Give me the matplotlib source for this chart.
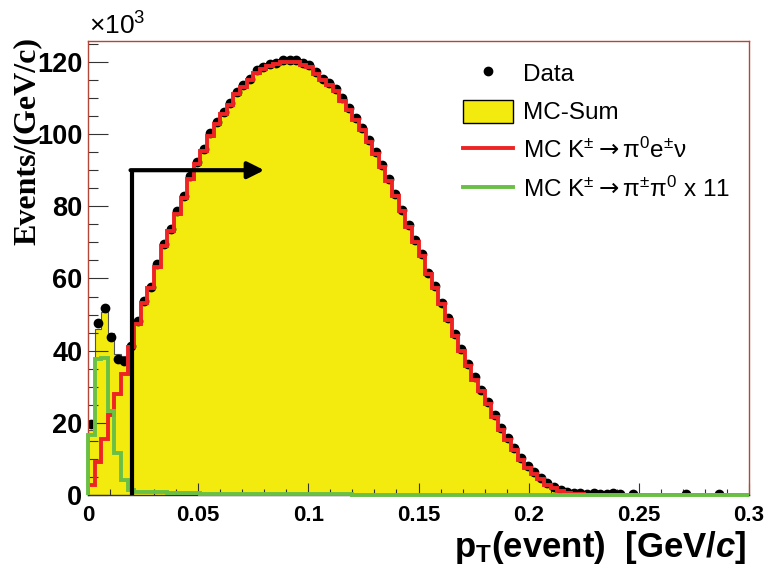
import numpy as np
import matplotlib
matplotlib.use("Agg")
from matplotlib import pyplot as plt
from matplotlib.lines import Line2D
from matplotlib.patches import Patch
from matplotlib.ticker import MultipleLocator

plt.rcParams['font.family'] = ['Liberation Sans', 'DejaVu Sans']
plt.rcParams['mathtext.fontset'] = 'custom'
plt.rcParams['mathtext.default'] = 'regular'
plt.rcParams['mathtext.rm'] = 'DejaVu Sans'
plt.rcParams['mathtext.it'] = 'Liberation Sans:italic:bold'

# binning: 100 bins of 3 MeV/c from 0 to 0.3 GeV/c
bin_width = 0.003
n_bins = 100

# events per GeV/c, in units of 10^3
data = [19.8, 47.6, 51.8, 43.9, 37.7, 37.2, 41.4, 48.1, 53.8, 57.7,
        63.9, 69.6, 73.6, 78.6, 82.8, 88.3, 92.4, 95.9, 100.2, 103.4,
        106.2, 108.5, 111.7, 113.7, 115.4, 117.7, 118.6, 119.5, 119.8, 120.5,
        120.6, 120.5, 119.6, 119.1, 117.2, 115.4, 114.3, 112.4, 109.9, 107.1,
        104.6, 101.6, 98.3, 95.0, 91.4, 87.6, 83.4, 79.1, 74.8, 70.6,
        66.7, 61.6, 57.9, 53.3, 49.0, 44.5, 40.5, 36.3, 32.6, 29.2,
        25.7, 22.1, 18.6, 15.7, 12.9, 10.2, 8.1, 6.3, 4.7, 3.3,
        2.2, 1.4, 0.9, 0.6, 0.5, 0.4, 0.5, 0.4, 0.4, 0.5,
        0.4, 0.0, 0.33, 0.0, 0.0, 0.0, 0.0, 0.0, 0.0, 0.0,
        0.33, 0.0, 0.0, 0.0, 0.0, 0.33, 0.0, 0.0, 0.0, 0.0]

mc_sum = [18.0, 46.0, 50.6, 45.0, 39.0, 38.6, 41.9, 47.8, 53.6, 57.6,
          63.5, 69.3, 73.4, 78.3, 82.6, 87.9, 92.1, 95.6, 99.9, 103.2,
          105.9, 108.3, 111.3, 113.4, 115.2, 117.3, 118.4, 119.3, 119.6, 120.2,
          120.3, 120.2, 119.4, 118.8, 117.0, 115.2, 113.9, 112.2, 109.6, 106.9,
          104.3, 101.4, 98.0, 94.8, 91.1, 87.4, 83.1, 78.9, 74.5, 70.4,
          66.4, 61.4, 57.6, 53.1, 48.7, 44.3, 40.2, 36.1, 32.3, 29.0,
          25.4, 21.9, 18.4, 15.5, 12.7, 10.1, 7.9, 6.2, 4.6, 3.2,
          2.2, 1.4, 0.8, 0.5, 0.3, 0.2, 0.1, 0.1, 0.0, 0.0,
          0.0, 0.0, 0.0, 0.0, 0.0, 0.0, 0.0, 0.0, 0.0, 0.0,
          0.0, 0.0, 0.0, 0.0, 0.0, 0.0, 0.0, 0.0, 0.0, 0.0]

mc_ke3 = [2.8, 9.2, 15.4, 22.1, 28.1, 33.6, 40.9, 47.4, 53.2, 57.3,
          63.2, 69.0, 73.1, 78.0, 82.3, 87.6, 91.8, 95.3, 99.6, 102.9,
          105.6, 108.0, 111.0, 113.1, 114.9, 117.0, 118.1, 119.0, 119.3, 119.9,
          120.0, 119.9, 119.1, 118.5, 116.7, 114.9, 113.6, 111.9, 109.3, 106.6,
          104.0, 101.1, 97.7, 94.5, 90.8, 87.1, 82.8, 78.6, 74.2, 70.1,
          66.1, 61.1, 57.3, 52.8, 48.4, 44.0, 39.9, 35.8, 32.0, 28.7,
          25.1, 21.6, 18.1, 15.2, 12.4, 9.8, 7.6, 5.9, 4.3, 2.9,
          1.9, 1.1, 0.6, 0.3, 0.15, 0.05, 0.0, 0.0, 0.0, 0.0,
          0.0, 0.0, 0.0, 0.0, 0.0, 0.0, 0.0, 0.0, 0.0, 0.0,
          0.0, 0.0, 0.0, 0.0, 0.0, 0.0, 0.0, 0.0, 0.0, 0.0]

# K -> pi pi0, scaled by 11
mc_kpi2_x11 = [16.6, 37.7, 38.0, 23.4, 11.5, 4.1, 1.4, 0.9, 0.8, 0.8,
               0.7, 0.7, 0.6, 0.6, 0.5, 0.5, 0.5, 0.4, 0.4, 0.4,
               0.3, 0.3, 0.3, 0.3, 0.3, 0.2, 0.2, 0.2, 0.2, 0.2,
               0.2, 0.2, 0.2, 0.2, 0.2, 0.2, 0.2, 0.2, 0.2, 0.2,
               0.1, 0.1, 0.1, 0.1, 0.1, 0.1, 0.1, 0.1, 0.1, 0.1,
               0.1, 0.1, 0.1, 0.1, 0.1, 0.1, 0.1, 0.1, 0.1, 0.1,
               0.0, 0.0, 0.0, 0.0, 0.0, 0.0, 0.0, 0.0, 0.0, 0.0,
               0.0, 0.0, 0.0, 0.0, 0.0, 0.0, 0.0, 0.0, 0.0, 0.0,
               0.0, 0.0, 0.0, 0.0, 0.0, 0.0, 0.0, 0.0, 0.0, 0.0,
               0.0, 0.0, 0.0, 0.0, 0.0, 0.0, 0.0, 0.0, 0.0, 0.0]

# selection cut on pT(event) and where the arrow points to
pt_cut = 0.02
arrow_level = 90.0
arrow_end = 0.08

edges = np.arange(n_bins + 1) * bin_width
centers = edges[:-1] + bin_width / 2
data = np.array(data)

fig = plt.figure(figsize=(7.64, 5.66), dpi=100)
ax = fig.add_axes([88 / 764, 1 - 495 / 566, 661 / 764, 454 / 566])

yellow = '#f3ea0e'
red = '#ee2424'
green = '#6abf45'

ax.stairs(mc_sum, edges, fill=True, color=yellow, zorder=1)
ax.stairs(mc_sum, edges, color='#555555', lw=0.8, zorder=1.5)
sel = data > 0
ax.plot(centers[sel], data[sel], 'o', color='black', ms=6, zorder=2)
ax.stairs(mc_ke3, edges, color=red, lw=2.8, zorder=3)
ax.stairs(mc_kpi2_x11, edges, color=green, lw=2.8, zorder=4, clip_on=False)

# cut arrow
ax.plot([pt_cut, pt_cut], [0, arrow_level], color='black', lw=3, zorder=5,
        solid_capstyle='butt')
ax.annotate('', xy=(arrow_end, arrow_level), xytext=(pt_cut - 0.0007, arrow_level),
            arrowprops=dict(arrowstyle='-|>,head_length=1.0,head_width=0.5',
                            color='black', lw=3, shrinkA=0, shrinkB=0),
            zorder=5)

ax.set_xlim(0, 0.3)
ax.set_ylim(0, 125.8)

ax.xaxis.set_minor_locator(MultipleLocator(0.01))
ax.yaxis.set_major_locator(MultipleLocator(20))
ax.yaxis.set_minor_locator(MultipleLocator(5))
ax.set_xticks([0, 0.05, 0.1, 0.15, 0.2, 0.25, 0.3])
ax.set_xticklabels(['0', '0.05', '0.1', '0.15', '0.2', '0.25', '0.3'])

ax.tick_params(axis='both', which='both', direction='in', top=False, right=False,
               color='#333333', width=0.8)
ax.tick_params(axis='y', which='major', length=14.4, pad=4, labelsize=19.5)
ax.tick_params(axis='y', which='minor', length=7.2)
ax.tick_params(axis='x', which='major', length=8.6, pad=7, labelsize=16)
ax.tick_params(axis='x', which='minor', length=4.3)
for lab in ax.get_xticklabels() + ax.get_yticklabels():
    lab.set_fontweight('bold')

for side in ['left', 'right', 'top', 'bottom']:
    ax.spines[side].set_color('#b5473a')
    ax.spines[side].set_linewidth(1.0)
ax.spines['bottom'].set_color('#333333')

fig.text(89 / 764, 1 - 35 / 566, r'$\times$10$^{3}$', fontsize=19,
         ha='left', va='baseline')
fig.text(27 / 764, 1 - 141 / 566, 'Events/(GeV/c)', rotation=90,
         family=['Liberation Serif', 'DejaVu Serif'], fontweight='bold',
         fontsize=23, ha='center', va='center')
fig.text(746 / 764, 1 - 548 / 566, r'p$_{T}$(event)  [GeV/$\mathit{c}$]',
         fontsize=25, fontweight='bold', ha='right', va='center')

handles = [
    Line2D([], [], ls='none', marker='o', color='black', ms=6),
    Patch(facecolor=yellow, edgecolor='black', lw=1),
    Line2D([], [], color=red, lw=2.8),
    Line2D([], [], color=green, lw=2.8),
]
labels = [
    'Data',
    'MC-Sum',
    r'MC K$^{\pm}\mathrm{\rightarrow}$π$^{0}$e$^{\pm}$ν',
    r'MC K$^{\pm}\mathrm{\rightarrow}$π$^{\pm}$π$^{0}$ x 11',
]
fig.legend(handles, labels, loc='upper left',
           bbox_to_anchor=(463 / 764, 1 - 61 / 566), frameon=False,
           fontsize=17.5, borderpad=0, borderaxespad=0, handlelength=2.05,
           handleheight=1.1, handletextpad=0.42, labelspacing=0.56)

fig.savefig('out.png', dpi=100)
